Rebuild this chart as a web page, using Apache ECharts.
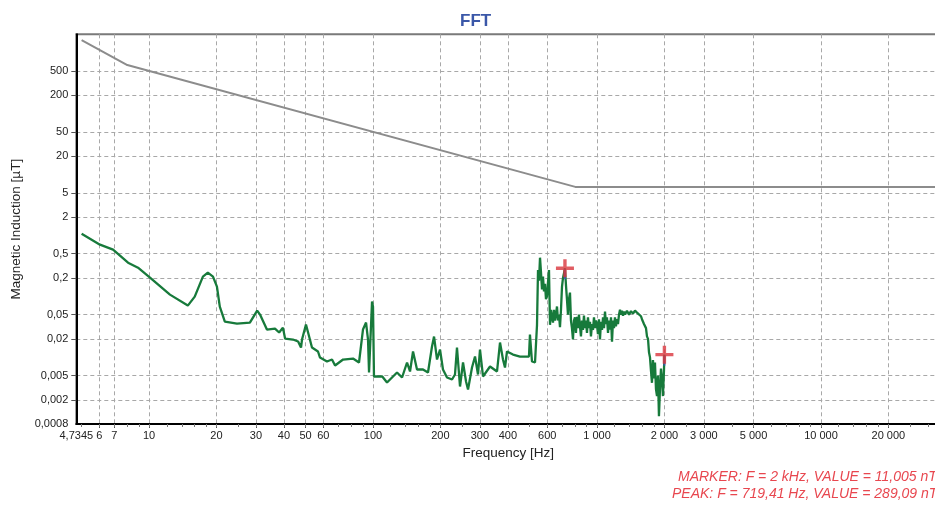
<!DOCTYPE html>
<html>
<head>
<meta charset="utf-8">
<script src="https://cdn.jsdelivr.net/npm/echarts@6/dist/echarts.min.js"></script>
<style>
html,body{margin:0;padding:0;background:#fff;}
#chart{width:935px;height:505px;}
</style>
</head>
<body>
<div id="chart"></div>
<script>
// ---- data ----
const xMin = 4.7345;
const xMax = 34000;
const yMin = 0.0008;
const yMax = 2000;
const xGridValues = [6, 7, 10, 20, 30, 40, 50, 60, 100, 200, 300, 400, 600, 1000, 2000, 3000, 5000, 10000, 20000];
const xLabelValues = [4.7345, 6, 7, 10, 20, 30, 40, 50, 60, 100, 200, 300, 400, 600, 1000, 2000, 3000, 5000, 10000, 20000];
const xMinorTickValues = [5, 6, 7, 8, 9, 10, 12, 14, 16, 18, 20, 25, 30, 40, 50, 60, 70, 80, 90, 100, 120, 140, 160, 180, 200, 250, 300, 400, 500, 600, 700, 800, 900, 1000, 1200, 1400, 1600, 1800, 2000, 2500, 3000, 4000, 5000, 6000, 7000, 8000, 9000, 10000, 12000, 14000, 16000, 18000, 20000, 25000, 30000];
const yGridValues = [0.002, 0.005, 0.02, 0.05, 0.2, 0.5, 2, 5, 20, 50, 200, 500];
const yLabelValues = [0.0008, 0.002, 0.005, 0.02, 0.05, 0.2, 0.5, 2, 5, 20, 50, 200, 500];

const limitFreq = [5, 8, 800, 34000];
const limitValue = [1600, 625, 6.25, 6.25];

const specFreq = [5.0, 6.04, 6.91, 8.06, 8.93, 10.1, 12.4, 14.9, 16.0, 17.4, 18.3, 19.3, 20.1, 20.7, 21.8, 24.7, 28.2, 30.4, 31.3, 33.6, 36.5, 38.1, 39.6, 40.5, 43.9, 46.3, 47.7, 48.2, 50.2, 51.3, 53.4, 56.8, 58.0, 62.3, 65.6, 67.7, 73.5, 81.4, 86.6, 90.2, 93.1, 95.0, 96.0, 99.0, 100, 101, 110, 115.5, 121.6, 128, 134.8, 141.9, 146.3, 150.9, 157.2, 167.2, 176, 183.4, 187.3, 193.1, 199.2, 205.3, 214, 225.3, 232.3, 237.1, 244.6, 252.3, 260.2, 265.6, 276.7, 285.4, 294.3, 300.4, 309.8, 333, 357.8, 369, 380.5, 388.4, 396.5, 421.7, 453, 497, 502, 512.6, 528.8,
  539.8, 545.4, 551.0, 556.7, 562.3, 568.2, 574.0, 580.0, 586.0, 592.0, 598.2, 604.3, 610.6, 616.9, 623.3, 629.7, 636.2, 642.7, 649.4, 656.1, 662.9, 669.7, 676.7, 683.6, 690.7, 697.9, 705.1, 712.4, 719.41, 727.2, 734.6, 742.2, 749.9, 757.6, 765.3, 773.2, 781.2, 789.2,
  797.4, 805.6, 814, 822.4, 830.9, 839.5, 848.1, 857, 865.8, 874.7, 883.7, 892.9, 902.3, 911.5, 921, 930.6, 940, 950, 959.6, 969.6, 980, 989.7, 1000, 1010, 1021, 1031, 1042, 1053, 1064, 1075, 1086, 1097, 1108, 1120, 1131, 1143, 1155, 1167, 1179, 1191, 1203, 1215, 1228, 1241, 1254, 1267, 1280, 1293, 1307, 1320, 1334, 1361, 1390, 1418, 1448, 1478, 1509, 1540, 1572, 1588, 1621, 1655, 1672, 1690, 1707, 1724, 1742, 1760, 1778, 1797, 1815, 1834, 1853, 1872, 1891, 1911, 1931, 1951, 1970, 1991, 2000];
const specValue = [1.065, 0.703, 0.582, 0.356, 0.295, 0.202, 0.1065, 0.0703, 0.0987, 0.210, 0.244, 0.210, 0.144, 0.0677, 0.0384, 0.0356, 0.0370, 0.0582, 0.0501, 0.0284, 0.0295, 0.0254, 0.0306, 0.0202, 0.0195, 0.0181, 0.0144, 0.0195, 0.0343, 0.0254, 0.0144, 0.0124, 0.00987, 0.00849, 0.00915, 0.00730, 0.00915, 0.0095, 0.00818, 0.0284, 0.0370, 0.0195, 0.0056, 0.0818, 0.0677, 0.00482, 0.00482, 0.00384, 0.00464, 0.0056, 0.00464, 0.00818, 0.00582, 0.0124, 0.00628, 0.00628, 0.0056, 0.01496, 0.0218, 0.00915, 0.01335, 0.00628, 0.00464, 0.0043, 0.0052, 0.0144, 0.0033, 0.00818, 0.00399, 0.00295, 0.00677, 0.01025, 0.0052, 0.01335, 0.00482, 0.00703, 0.00582, 0.0174, 0.00915, 0.00677, 0.0124, 0.01106, 0.01025, 0.01025, 0.0235, 0.00849, 0.00818,
  0.034, 0.27, 0.18, 0.43, 0.25, 0.13, 0.21, 0.12, 0.16, 0.09, 0.10, 0.17, 0.27, 0.034, 0.06, 0.045, 0.037, 0.06, 0.04, 0.05, 0.068, 0.04, 0.05, 0.031, 0.06, 0.144, 0.20, 0.24, 0.28909, 0.15, 0.088, 0.05, 0.09, 0.115, 0.04, 0.03, 0.0195, 0.04,
  0.045, 0.025, 0.046, 0.03, 0.05, 0.032, 0.022, 0.04, 0.028, 0.048, 0.03, 0.04, 0.025, 0.045, 0.03, 0.038, 0.022, 0.035, 0.028, 0.045, 0.03, 0.04, 0.034, 0.024, 0.042, 0.0195, 0.038, 0.028, 0.045, 0.03, 0.056, 0.035, 0.045, 0.025, 0.04, 0.0284, 0.045, 0.018, 0.04, 0.03, 0.045, 0.032, 0.042, 0.035, 0.05, 0.0604, 0.05, 0.058, 0.048, 0.056, 0.05, 0.058, 0.05, 0.057, 0.052, 0.058, 0.054, 0.056, 0.047, 0.042, 0.035, 0.03, 0.022, 0.02, 0.012, 0.01, 0.006, 0.0038, 0.009, 0.0045, 0.0082, 0.003, 0.0023, 0.005, 0.00107, 0.003, 0.0065, 0.0043, 0.0023, 0.006, 0.011005];

const markerFreq = [719.41, 2000];
const markerValue = [0.28909, 0.011005];

const titleText = 'FFT';
const xName = 'Frequency [Hz]';
const yName = 'Magnetic Induction [µT]';
const infoLines = ['MARKER: F = 2 kHz, VALUE = 11,005 nT', 'PEAK: F = 719,41 Hz, VALUE = 289,09 nT'];

// ---- helpers ----
function fmt(v) {
  const n = Number(Number(v).toPrecision(6));
  let s = String(n);
  if (n >= 1000) s = s.replace(/\B(?=(\d{3})+(?!\d))/g, ' ');
  return s.replace('.', ',');
}
const zip = (a, b) => a.map((v, i) => [v, b[i]]);

const FONT = '"Liberation Sans", Arial, sans-serif';
const gridLine = { show: true, lineStyle: { color: '#a8a8a8', type: [4, 3], width: 1 } };

const chart = echarts.init(document.getElementById('chart'), null, { renderer: 'canvas' });
chart.setOption({
  animation: false,
  backgroundColor: '#ffffff',
  title: {
    text: titleText, left: 455, top: 8,
    textStyle: { color: '#3a57a8', fontSize: 17, fontWeight: 'bold', fontFamily: FONT }
  },
  grid: { left: 76.3, top: 34.3, bottom: 81, right: -5, outerBoundsMode: 'none', containLabel: false, show: true, borderColor: '#7a7a7a', borderWidth: 2, backgroundColor: 'transparent' },
  xAxis: [{
    type: 'log', min: xMin, max: xMax, position: 'bottom',
    name: xName, nameLocation: 'middle', nameGap: 21,
    nameTextStyle: { color: '#222', fontSize: 13.5, fontFamily: FONT },
    axisLine: { show: true, onZero: false, lineStyle: { color: '#000', width: 2 } },
    axisTick: { show: true, length: 4, customValues: xGridValues, lineStyle: { color: '#555' } },
    axisLabel: { customValues: xLabelValues, formatter: fmt, margin: 6, color: '#222', fontSize: 11, fontFamily: FONT },
    splitLine: gridLine, minorTick: { show: false }
  }, {
    type: 'log', min: xMin, max: xMax, position: 'bottom',
    axisLine: { show: false },
    axisTick: { show: true, length: 3, customValues: xMinorTickValues, lineStyle: { color: '#777' } },
    axisLabel: { show: false },
    splitLine: { show: false }
  }],
  yAxis: {
    type: 'log', min: yMin, max: yMax,
    name: yName, nameLocation: 'middle', nameGap: 42, nameRotate: 90,
    nameTextStyle: { color: '#222', fontSize: 13.5, fontFamily: FONT },
    axisLine: { show: true, onZero: false, lineStyle: { color: '#000', width: 2 } },
    axisTick: { show: true, length: 5, customValues: yGridValues, lineStyle: { color: '#555' } },
    axisLabel: { customValues: yLabelValues, formatter: fmt, margin: 8, color: '#222', fontSize: 11, fontFamily: FONT },
    splitLine: gridLine
  },
  graphic: [
    { type: 'text', left: 678, top: 470, style: { text: infoLines[0], fill: '#e8474f', font: 'italic 14px ' + FONT } },
    { type: 'text', left: 672, top: 487, style: { text: infoLines[1], fill: '#e8474f', font: 'italic 14px ' + FONT } }
  ],
  series: [
    {
      type: 'line', name: 'limit', data: zip(limitFreq, limitValue), showSymbol: false, symbol: 'none',
      lineStyle: { color: '#8c8c8c', width: 2 }, z: 3
    },
    {
      type: 'line', name: 'spectrum', data: zip(specFreq, specValue), showSymbol: false, symbol: 'none',
      lineStyle: { color: '#177a3b', width: 2.3 }, z: 4
    },
    {
      type: 'scatter', name: 'stem', data: zip(markerFreq, markerValue), symbol: 'rect', symbolSize: [2, 10], symbolOffset: [0, 6],
      itemStyle: { color: '#3a55c0' }, z: 5, silent: true
    },
    {
      type: 'scatter', name: 'markers', data: zip(markerFreq, markerValue),
      symbol: 'path://M0,6.5 L16,6.5 L16,9.5 L0,9.5 Z M6.5,0 L9.5,0 L9.5,16 L6.5,16 Z', symbolSize: 18,
      itemStyle: { color: '#d9343c' }, z: 6, silent: true
    }
  ]
});
</script>
</body>
</html>
